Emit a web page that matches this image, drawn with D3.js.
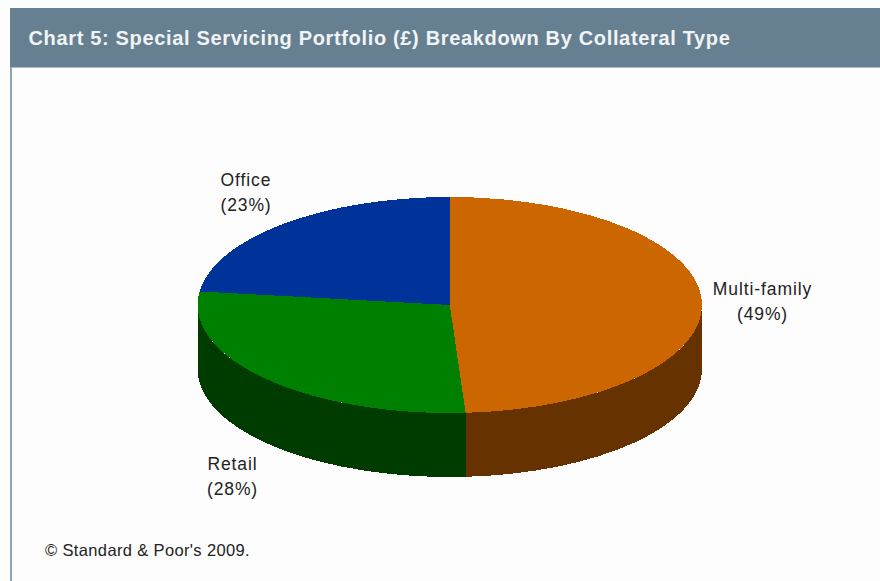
<!DOCTYPE html>
<html>
<head>
<meta charset="utf-8">
<script src="https://cdn.jsdelivr.net/npm/d3@7/dist/d3.min.js"></script>
<style>
  html, body { margin: 0; padding: 0; background: #fdfdfd; }
  svg { display: block; }
  text { font-family: "Liberation Sans", Arial, sans-serif; }
</style>
</head>
<body>
<svg id="chart" width="880" height="581"></svg>
<script>
const categories = ["Multi-family", "Retail", "Office"];
const shares = [49, 28, 23];
const topColors = ["#cc6600", "#008000", "#003399"];
const wallColors = ["#663300", "#003c00", "#001a4d"];
const chartTitle = "Chart 5: Special Servicing Portfolio (£) Breakdown By Collateral Type";
const footnote = "© Standard & Poor's 2009.";

const labelSpots = [
  { x: 762.5, y: 295 },
  { x: 232.5, y: 470 },
  { x: 246, y: 186 }
];

const svg = d3.select("#chart");
const cx = 449.8, cy = 305, rx = 252.2, ry = 108, depth = 64;

// Header band and the frame rule down the left side
svg.append("rect").attr("x", 10).attr("y", 8).attr("width", 870).attr("height", 59.5).attr("fill", "#678091");
svg.append("rect").attr("x", 10).attr("y", 67).attr("width", 2).attr("height", 514).attr("fill", "#8fa3b1");
svg.append("text").attr("x", 28.5).attr("y", 44.5).attr("fill", "#f1f4f5")
  .attr("font-size", 20).attr("font-weight", "bold").attr("letter-spacing", 0.66).text(chartTitle);

const slices = d3.pie().sort(null).value(d => d)(shares);
const px = a => cx + rx * Math.sin(a);
const py = a => cy - ry * Math.cos(a);

// Rim of the disc: only the front half (90deg to 270deg clockwise from the top) shows
const wallPath = s => {
  const a0 = Math.max(s.startAngle, Math.PI / 2);
  const a1 = Math.min(s.endAngle, 3 * Math.PI / 2);
  if (a1 <= a0) return null;
  return `M${px(a0)},${py(a0)}L${px(a0)},${py(a0) + depth}` +
    `A${rx},${ry} 0 0 1 ${px(a1)},${py(a1) + depth}L${px(a1)},${py(a1)}` +
    `A${rx},${ry} 0 0 0 ${px(a0)},${py(a0)}Z`;
};
svg.append("g").attr("shape-rendering", "crispEdges")
  .selectAll("path").data(slices).join("path")
  .attr("d", wallPath).attr("fill", (d, i) => wallColors[i]);

// Top face: a flat pie squashed into an ellipse
const arc = d3.arc().innerRadius(0).outerRadius(rx);
svg.append("g").attr("transform", `translate(${cx},${cy}) scale(1,${ry / rx})`)
  .attr("shape-rendering", "crispEdges")
  .selectAll("path").data(slices).join("path")
  .attr("d", arc).attr("fill", (d, i) => topColors[i]);

// Two-line slice labels
const labels = svg.append("g").attr("fill", "#222").attr("font-size", 17.5).attr("text-anchor", "middle");
categories.forEach((name, i) => {
  const t = labels.append("text").attr("x", labelSpots[i].x).attr("y", labelSpots[i].y).attr("letter-spacing", 0.9);
  t.append("tspan").attr("x", labelSpots[i].x).text(name);
  t.append("tspan").attr("x", labelSpots[i].x).attr("dy", 25).text(`(${shares[i]}%)`);
});

svg.append("text").attr("x", 45).attr("y", 555.5).attr("fill", "#222")
  .attr("font-size", 16.5).attr("letter-spacing", 0.36).text(footnote);
</script>
</body>
</html>
